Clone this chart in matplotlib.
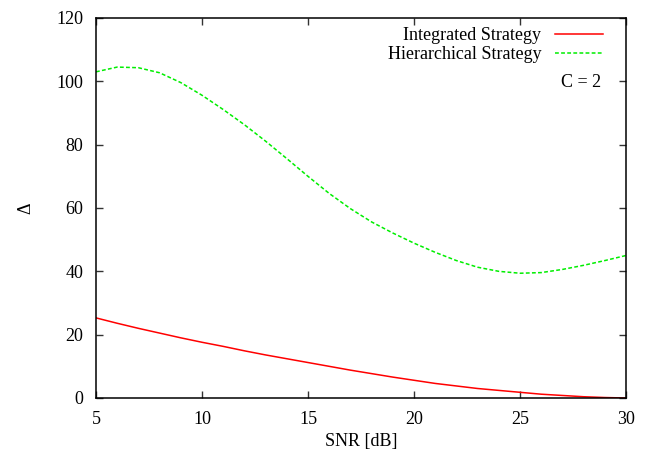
import matplotlib.pyplot as plt

plt.rcParams['font.family'] = ['Liberation Serif', 'DejaVu Serif']
plt.rcParams['font.size'] = 13

snr = [5, 6, 7, 8, 9, 10, 11, 12, 13, 14, 15, 16, 17, 18, 19, 20,
       21, 22, 23, 24, 25, 26, 27, 28, 29, 30]
integrated = [25.3, 23.6, 22.0, 20.5, 19.0, 17.6, 16.3, 14.9, 13.6, 12.4, 11.2,
              10.0, 8.8, 7.7, 6.6, 5.6, 4.6, 3.8, 3.0, 2.4, 1.8, 1.2, 0.8,
              0.4, 0.15, 0.0]
hierarchical = [103.0, 104.5, 104.3, 102.7, 99.6, 95.6, 91.1, 86.3, 81.1, 75.6,
                70.0, 64.6, 59.8, 55.6, 52.1, 48.9, 46.0, 43.4, 41.3, 40.0,
                39.4, 39.6, 40.6, 41.9, 43.4, 45.0]

fig = plt.figure(figsize=(6.55, 4.62), dpi=100)
ax = fig.add_axes([96 / 655, 64 / 462, 530 / 655, 380 / 462])

ax.plot(snr, integrated, color='#ff0000', lw=1.1, label='Integrated Strategy')
ax.plot(snr, hierarchical, color='#00ee00', lw=1.1, dashes=(2.5, 1.5),
        label='Hierarchical Strategy')

ax.set_xlim(5, 30)
ax.set_ylim(0, 120)
ax.set_xticks([5, 10, 15, 20, 25, 30])
ax.set_yticks([0, 20, 40, 60, 80, 100, 120])
ax.tick_params(direction='in', top=True, right=True, length=5, width=1,
               pad=9, color='#333333')
for s in ax.spines.values():
    s.set_linewidth(1.1)

ax.set_xlabel('SNR [dB]', labelpad=4)
ax.set_ylabel('Δ', labelpad=16)

ax.legend(loc='upper right', bbox_to_anchor=(0.970, 0.995), frameon=False,
          markerfirst=False, handlelength=2.65, handletextpad=0.75,
          labelspacing=0.1, borderaxespad=0, borderpad=0.4)
ax.text(0.954, 0.83, 'C = 2', transform=ax.transAxes, ha='right', va='center')

fig.savefig('out.png', dpi=100)
